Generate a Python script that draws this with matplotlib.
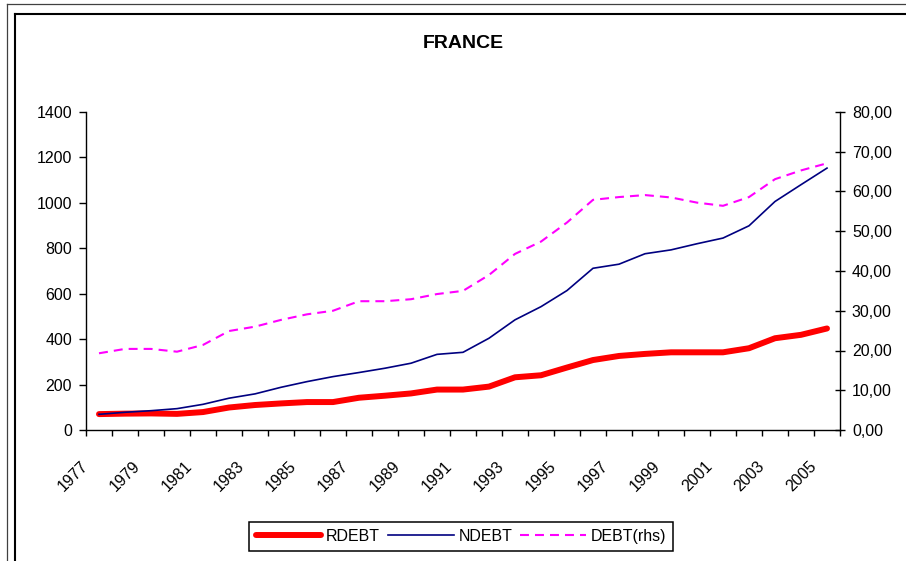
import numpy as np
import matplotlib.pyplot as plt
from matplotlib.lines import Line2D
from matplotlib import transforms

plt.rcParams['font.family'] = ['Liberation Sans', 'DejaVu Sans']

# datos
years = list(range(1977, 2006))
rdebt = [70, 72, 73, 71, 79, 99, 110, 117, 123, 123, 142, 151, 161, 178, 178,
         191, 232, 241, 275, 308, 326, 335, 342, 342, 342, 360, 404, 419, 447]
ndebt = [69, 78, 85, 94, 113, 140, 159, 188, 213, 235, 253, 272, 294, 333, 342,
         404, 485, 543, 614, 712, 730, 776, 793, 820, 845, 899, 1006, 1080, 1153]
debt = [19.3, 20.4, 20.4, 19.7, 21.4, 24.9, 26.0, 27.7, 29.1, 30.0, 32.4, 32.4,
        32.9, 34.2, 35.0, 39.0, 44.3, 47.4, 52.2, 57.9, 58.6, 59.1, 58.5, 57.2,
        56.4, 58.6, 63.1, 65.3, 67.1]
left_ticks = [0, 200, 400, 600, 800, 1000, 1200, 1400]
right_ticks = [0, 10, 20, 30, 40, 50, 60, 70, 80]
right_labels = ['0,00', '10,00', '20,00', '30,00', '40,00', '50,00', '60,00', '70,00', '80,00']

W, H = 906, 561
fig = plt.figure(figsize=(W / 100, H / 100), dpi=100)
ax = fig.add_axes([86 / W, 1 - 430 / H, 754 / W, 318 / H])
ax2 = ax.twinx()

x = np.arange(len(years))
ax.plot(x, rdebt, color='#ff0000', lw=4.3, solid_capstyle='round', label='RDEBT', zorder=2)
ax.plot(x, ndebt, color='#000080', lw=1.2, label='NDEBT', zorder=3)
ax2.plot(x, debt, color='#ff00ff', lw=1.5, dashes=(4.3, 2.9), label='DEBT(rhs)')

ax.set_xlim(-0.5, len(years) - 0.5)
ax.set_ylim(0, 1400)
ax2.set_ylim(0, 80)

ax.set_yticks(left_ticks, [str(v) for v in left_ticks])
ax2.set_yticks(right_ticks, right_labels)
ax.set_xticks(np.arange(-0.5, len(years)), [])

ax.tick_params(axis='x', direction='out', length=4.3, width=1)
ax.tick_params(axis='y', direction='out', length=5, width=1, pad=5, labelsize=11.5)
ax2.tick_params(axis='y', direction='inout', length=7.2, width=1, pad=5, labelsize=11.5)

for s in ['top', 'right']:
    ax.spines[s].set_visible(False)
for s in ['top', 'left', 'bottom']:
    ax2.spines[s].set_visible(False)
for sp in [ax.spines['left'], ax.spines['bottom'], ax2.spines['right']]:
    sp.set_linewidth(1.0)

# etiquetas de los anos, giradas 45 grados
off = transforms.ScaledTranslation(-13 / 100, -34 / 100, fig.dpi_scale_trans)
for xi, yr in zip(x[::2], years[::2]):
    ax.text(xi, 0, str(yr), transform=ax.get_xaxis_transform() + off, rotation=45,
            rotation_mode='anchor', ha='right', va='center', fontsize=11.5)

fig.text(463 / W, 1 - 44 / H, 'FRANCE', ha='center', va='center', fontsize=14, fontweight='bold')

# marcos exteriores
fig.add_artist(Line2D([6.5 / W, 1], [1 - 4 / H] * 2, transform=fig.transFigure, color='#404040', lw=0.9))
fig.add_artist(Line2D([6.5 / W] * 2, [0, 1 - 4 / H], transform=fig.transFigure, color='#404040', lw=0.9))
fig.add_artist(Line2D([15 / W, 1], [1 - 14 / H] * 2, transform=fig.transFigure, color='black', lw=1.5))
fig.add_artist(Line2D([15 / W] * 2, [0, 1 - 14 / H], transform=fig.transFigure, color='black', lw=1.5))

h1, l1 = ax.get_legend_handles_labels()
h2, l2 = ax2.get_legend_handles_labels()
leg = fig.legend(h1 + h2, l1 + l2, loc='center', bbox_to_anchor=(461 / W, 1 - 536.5 / H),
                 ncol=3, fontsize=11.5, frameon=True, fancybox=False, edgecolor='black',
                 framealpha=1, handlelength=4.1, handletextpad=0.3, columnspacing=0.5,
                 borderpad=0.45)
leg.get_frame().set_linewidth(1.1)

fig.savefig('out.png', dpi=100)
